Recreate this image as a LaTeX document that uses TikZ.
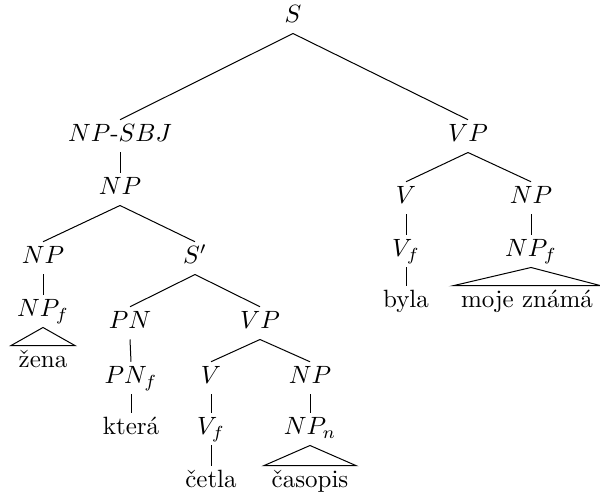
\documentclass[tikz,border=0pt]{standalone}
\begin{document}
\begin{tikzpicture}[x=0.4pt, y=-0.4pt, every node/.style={anchor=base, inner xsep=3pt, inner ysep=1pt, text height=7.7pt, text depth=3pt}]
            \useasboundingbox (0,0) rectangle (600,498);
            % top of the tree
            \node (s) at (293, 23) {$S$};
            \node (nps) at (120, 142) {$NP$-$SBJ$};
            \node (vp) at (468, 142) {$VP$};
            \node (np) at (120, 195) {$NP$};
            % right branch
            \node (v) at (406, 204) {$V$};
            \node (npr) at (531, 204) {$NP$};
            \node (vf) at (406, 257) {$V_f$};
            \node (npfr) at (531, 257) {$NP_f$};
            \node (byla) at (406, 308) {byla};
            \node (moje) at (527, 308) {moje známá};
            % left branch
            \node (npl) at (43, 264) {$NP$};
            \node (sbar) at (195, 264) {$S'$};
            \node (npfl) at (43, 317) {$NP_f$};
            \node (zena) at (43, 368) {žena};
            \node (pn) at (130, 329) {$PN$};
            \node (vpm) at (260, 329) {$VP$};
            \node (pnf) at (131, 384) {$PN_f$};
            \node (vm) at (211, 384) {$V$};
            \node (npm) at (310, 384) {$NP$};
            \node (ktera) at (131, 435) {která};
            \node (vfm) at (211, 435) {$V_f$};
            \node (npn) at (310, 435) {$NP_n$};
            \node (cetla) at (211, 488) {četla};
            \node (casopis) at (310, 488) {časopis};
            \draw (s.south) -- (nps.north);
            \draw (s.south) -- (vp.north);
            \draw (nps.south) -- (np.north);
            \draw (vp.south) -- (v.north);
            \draw (vp.south) -- (npr.north);
            \draw (v.south) -- (vf.north);
            \draw (npr.south) -- (npfr.north);
            \draw (vf.south) -- (byla.north);
            \draw (npfr.south) -- (moje.north west) -- (moje.north east) -- cycle;
            \draw (np.south) -- (npl.north);
            \draw (np.south) -- (sbar.north);
            \draw (npl.south) -- (npfl.north);
            \draw (npfl.south) -- (zena.north west) -- (zena.north east) -- cycle;
            \draw (sbar.south) -- (pn.north);
            \draw (sbar.south) -- (vpm.north);
            \draw (pn.south) -- (pnf.north);
            \draw (pnf.south) -- (ktera.north);
            \draw (vpm.south) -- (vm.north);
            \draw (vpm.south) -- (npm.north);
            \draw (vm.south) -- (vfm.north);
            \draw (npm.south) -- (npn.north);
            \draw (vfm.south) -- (cetla.north);
            \draw (npn.south) -- (casopis.north west) -- (casopis.north east) -- cycle;
        \end{tikzpicture}
\end{document}
